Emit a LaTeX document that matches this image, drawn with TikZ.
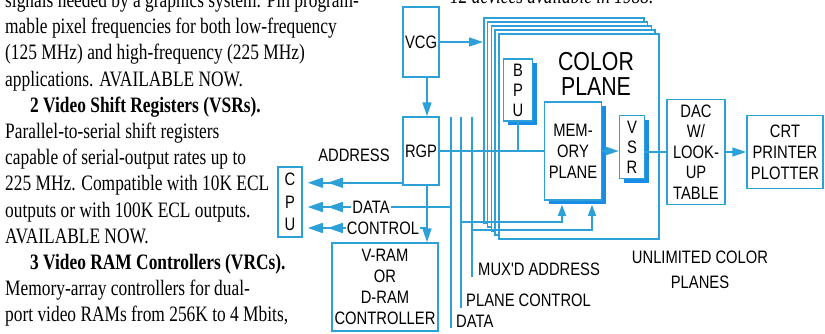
\documentclass[tikz,border=0pt]{standalone}
\usepackage{fontspec}
\setmainfont{Liberation Serif}
\newfontfamily\boxfont[FakeStretch=0.82]{Liberation Sans}
\newfontfamily\copyfont[FakeStretch=0.79]{Liberation Serif}
\usetikzlibrary{arrows.meta, positioning, shadows}
\definecolor{lineblue}{RGB}{45,160,215}
\definecolor{shadeblue}{RGB}{25,140,230}
\tikzset{
    unit/.style={rectangle, draw=lineblue, line width=1.5pt, fill=white, inner sep=0pt, align=center, font=\boxfont\fontsize{18}{21}\selectfont},
    shadowunit/.style={unit, drop shadow={shadow xshift=4pt, shadow yshift=-4pt, fill=shadeblue, opacity=1}},
    plane/.style={rectangle, draw=lineblue, line width=1.5pt, fill=white, anchor=north west, minimum width=160pt, minimum height=205pt},
    lbl/.style={inner sep=1pt, align=center, font=\boxfont\fontsize{18}{21}\selectfont},
    bus/.style={draw=lineblue, line width=1.5pt},
    arrow/.style={bus, -{Triangle[length=14pt, width=9pt]}},
    smallarrow/.style={bus, -{Triangle[length=11pt, width=8pt]}},
    cpuarrow/.style={bus, shorten >=5pt, -{Triangle[length=15pt, width=10pt, sep=5pt] Triangle[length=15pt, width=10pt]}}
}
\begin{document}
\begin{tikzpicture}[x=1pt, y=-1pt]
    \clip (0,0) rectangle (825,333);
    % text column
    \node (copy) [anchor=north west, align=left, inner sep=0pt, font=\copyfont\fontsize{22}{26.2}\selectfont] at (5,-8) {signals needed by a graphics system. Pin program-\\
        mable pixel frequencies for both low-frequency\\
        (125 MHz) and high-frequency (225 MHz)\\
        applications. AVAILABLE NOW.\\
        \hspace*{25pt}{\bfseries 2 Video Shift Registers (VSRs).}\\
        Parallel-to-serial shift registers\\
        capable of serial-output rates up to\\
        225 MHz. Compatible with 10K ECL\\
        outputs or with 100K ECL outputs.\\
        AVAILABLE NOW.\\
        \hspace*{25pt}{\bfseries 3 Video RAM Controllers (VRCs).}\\
        Memory-array controllers for dual-\\
        port video RAMs from 256K to 4 Mbits,};
    \node (note) [anchor=west, inner sep=0pt, font=\copyfont\itshape\fontsize{22}{26}\selectfont] at (450,-4) {12 devices available in 1988.};

    % stacked color planes
    \foreach \k in {0,...,4}
        \node (plane\k) [plane] at ({483+3.75*\k},{17+4*\k}) {};
    \node (colorlbl) [inner sep=0pt, align=center, font=\boxfont\fontsize{26}{25}\selectfont] at (596,74) {COLOR\\PLANE};

    \node (vcg) [unit, minimum width=36pt, minimum height=70pt] at (421,42) {VCG};
    \node (rgp) [unit, minimum width=36pt, minimum height=68pt] at (421,151) {RGP};
    \node (cpu) [unit, minimum width=24pt, minimum height=70pt, font=\boxfont\fontsize{18}{22.5}\selectfont] at (290,202) {C\\P\\U};
    \node (vram) [unit, minimum width=106pt, minimum height=88pt] at (385,287) {V-RAM\\OR\\D-RAM\\CONTROLLER};
    \node (bpu) [shadowunit, minimum width=29pt, minimum height=62pt, font=\boxfont\fontsize{18}{20}\selectfont] at (518,90) {B\\P\\U};
    \node (mem) [shadowunit, minimum width=57pt, minimum height=98pt] at (573,151) {MEM-\\ORY\\PLANE};
    \node (vsr) [shadowunit, minimum width=25pt, minimum height=63pt, font=\boxfont\fontsize{18}{20}\selectfont] at (632,147) {V\\S\\R};
    \node (dac) [unit, minimum width=58pt, minimum height=105pt, font=\boxfont\fontsize{18}{20.5}\selectfont] at (696,152) {DAC\\W/\\LOOK-\\UP\\TABLE};
    \node (crt) [unit, minimum width=76pt, minimum height=73pt] at (785,152) {CRT\\PRINTER\\PLOTTER};

    \node (addrlbl) [lbl] at (354,155) {ADDRESS};
    \node (datalbl) [lbl] at (371,207) {DATA};
    \node (ctrllbl) [lbl] at (383,228) {CONTROL};
    \node (muxlbl) [lbl, anchor=west] at (477,269) {MUX'D ADDRESS};
    \node (pctllbl) [lbl, anchor=west] at (465,300) {PLANE CONTROL};
    \node (dbuslbl) [lbl, anchor=west] at (455,321) {DATA};
    \node (unlimlbl) [lbl, font=\boxfont\fontsize{18}{25}\selectfont] at (700,270) {UNLIMITED COLOR\\PLANES};

    \coordinate (busa) at (451,117);
    \coordinate (busb) at (461,117);
    \coordinate (busc) at (472,117);
    \coordinate (drop) at ([xshift=6pt]rgp.south);
    \coordinate (addr) at ([yshift=3pt]rgp.south west);

    \draw [arrow] (vcg.east) -- (vcg.east -| plane0.west);
    \draw [arrow] ([xshift=6pt]vcg.south) -- ([xshift=6pt]rgp.north);
    \draw [arrow] (drop) -- (drop |- vram.north);
    \draw [bus] (rgp.east) -- (mem.west);
    \draw [bus] (bpu.south) -- (bpu.south |- mem.west);
    \draw [arrow] (mem.east) -- (vsr.west |- mem.east);
    \draw [bus] (vsr.east |- dac.west) -- (dac.west);
    \draw [arrow] (dac.east) -- (crt.west);

    % CPU side
    \draw [cpuarrow] (addr) -- (addr -| cpu.east);
    \draw [cpuarrow] (datalbl.west) -- (datalbl.west -| cpu.east);
    \draw [cpuarrow] (ctrllbl.west) -- (ctrllbl.west -| cpu.east);
    \draw [bus] (datalbl.east) -- (datalbl.east -| busa);
    \draw [bus] (ctrllbl.east) -- (ctrllbl.east -| drop);

    % buses to the planes
    \draw [bus] (busa) -- (busa |- dbuslbl.south);
    \draw [bus] (busb) -- (busb |- pctllbl.south);
    \draw [bus] (busc) -- (busc |- muxlbl.south);
    \draw [smallarrow] (busb |- 0,222) -| ([xshift=-11pt, yshift=-4pt]mem.south);
    \draw [smallarrow] (busc |- 0,230) -| ([xshift=19pt, yshift=-4pt]mem.south);
\end{tikzpicture}
\end{document}
